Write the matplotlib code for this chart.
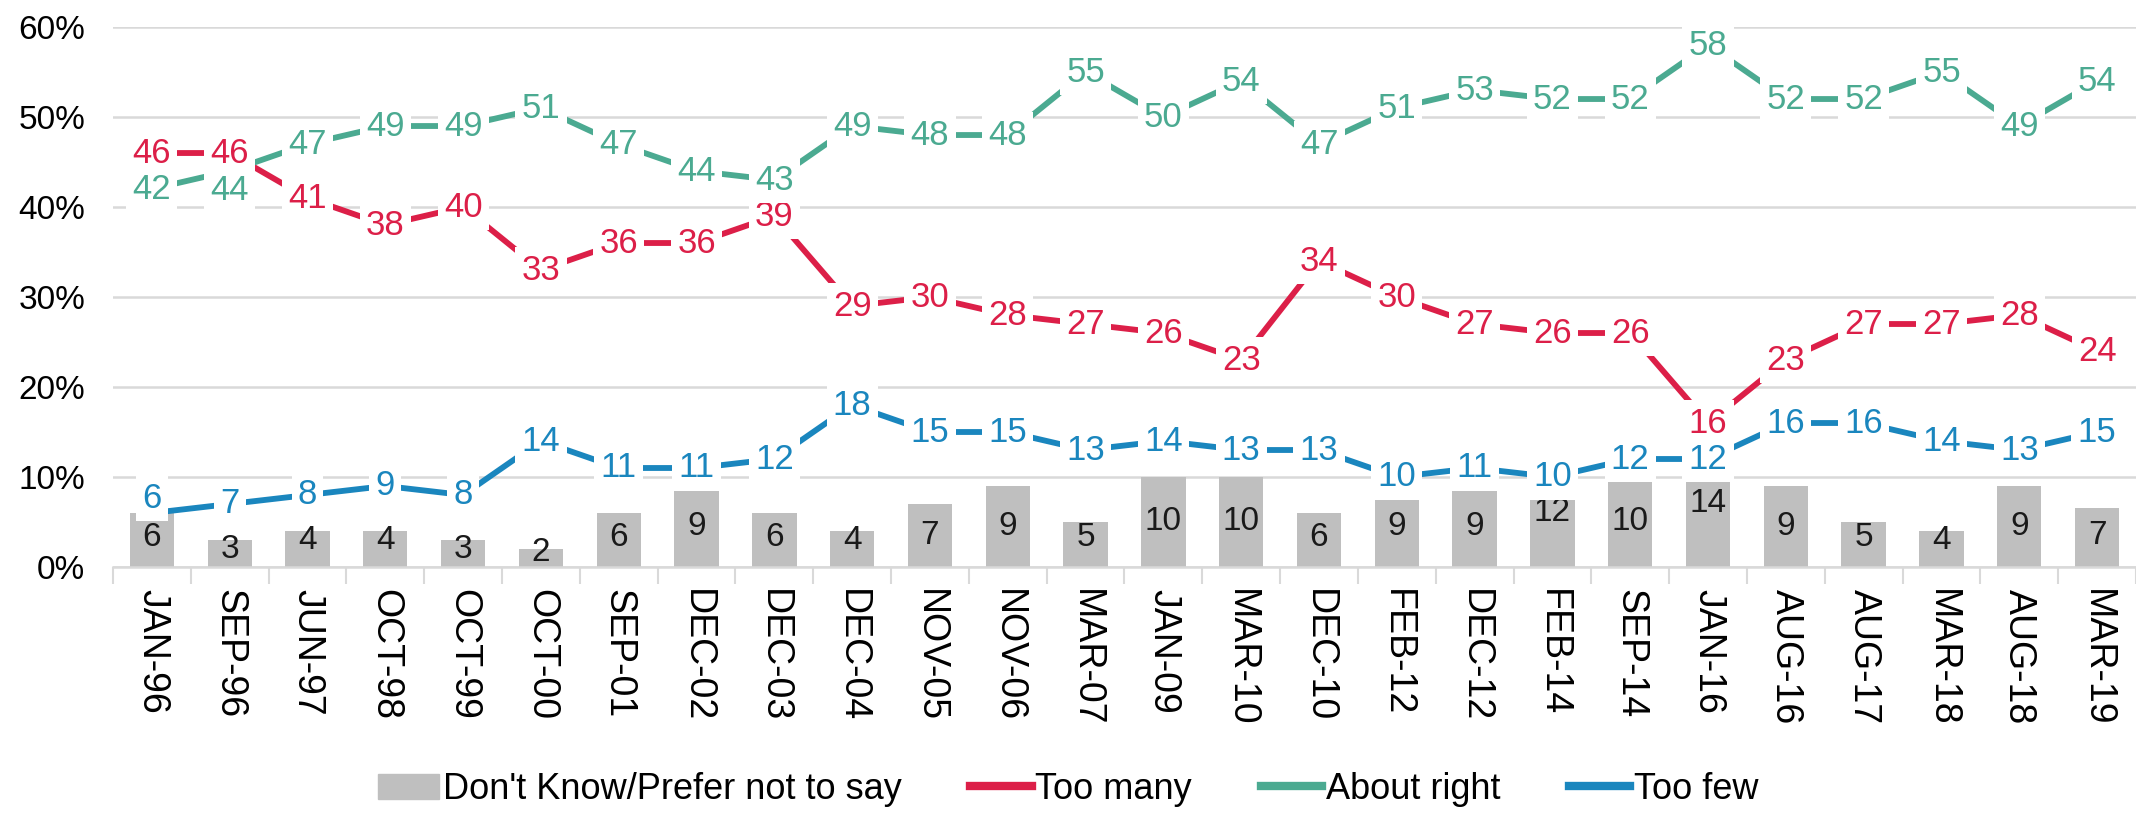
import numpy as np
import matplotlib
matplotlib.use("Agg")
import matplotlib.pyplot as plt
from matplotlib.patches import Patch
from matplotlib.lines import Line2D

plt.rcParams['font.family'] = ['Liberation Sans', 'DejaVu Sans']

# Data
dates = ['JAN-96', 'SEP-96', 'JUN-97', 'OCT-98', 'OCT-99', 'OCT-00', 'SEP-01',
         'DEC-02', 'DEC-03', 'DEC-04', 'NOV-05', 'NOV-06', 'MAR-07', 'JAN-09',
         'MAR-10', 'DEC-10', 'FEB-12', 'DEC-12', 'FEB-14', 'SEP-14', 'JAN-16',
         'AUG-16', 'AUG-17', 'MAR-18', 'AUG-18', 'MAR-19']
too_many = [46, 46, 41, 38, 40, 33, 36, 36, 39, 29, 30, 28, 27, 26, 23, 34, 30,
            27, 26, 26, 16, 23, 27, 27, 28, 24]
about_right = [42, 44, 47, 49, 49, 51, 47, 44, 43, 49, 48, 48, 55, 50, 54, 47,
               51, 53, 52, 52, 58, 52, 52, 55, 49, 54]
too_few = [6, 7, 8, 9, 8, 14, 11, 11, 12, 18, 15, 15, 13, 14, 13, 13, 10, 11,
           10, 12, 12, 16, 16, 14, 13, 15]
# bar heights as drawn in the picture, and the numbers printed on them
dont_know_bar = [6, 3, 4, 4, 3, 2, 6, 8.5, 6, 4, 7, 9, 5, 10, 10, 6, 7.5, 8.5,
                 7.5, 9.5, 9.5, 9, 5, 4, 9, 6.6]
dont_know_lbl = [6, 3, 4, 4, 3, 2, 6, 9, 6, 4, 7, 9, 5, 10, 10, 6, 9, 9, 12, 10,
                 14, 9, 5, 4, 9, 7]

RED = '#DC1F48'
TEAL = '#4BAA91'
BLUE = '#1A86BE'
GRAY = '#BFBFBF'

fig = plt.figure(figsize=(21.36, 8.19), dpi=100)
ax = fig.add_axes([0.0529, 0.3077, 0.9471, 0.6593])

x = np.arange(len(dates))

# bars
ax.bar(x, dont_know_bar, width=0.57, color=GRAY, zorder=2)
for xi, h, v in zip(x, dont_know_bar, dont_know_lbl):
    y = max(v / 2, min(3.3, h - 1.1), 1.6)
    ax.text(xi, y, str(v), ha='center', va='center', fontsize=24,
            color='#1a1a1a', zorder=3)

# label positions: on the point, pushed apart where they would collide
lab_many = list(map(float, too_many))
lab_right = list(map(float, about_right))
lab_few = list(map(float, too_few))
for i in range(len(dates)):
    if lab_many[i] - lab_right[i] < 3.5 and lab_many[i] >= lab_right[i]:
        lab_right[i] = lab_many[i] - 4.2
    if too_few[i] - dont_know_bar[i] < 1:
        lab_few[i] = too_few[i] + 1.6

for vals, labs, col in [(too_many, lab_many, RED), (about_right, lab_right, TEAL),
                        (too_few, lab_few, BLUE)]:
    ax.plot(x, vals, color=col, lw=4.2, solid_capstyle='butt', zorder=4)
    for xi, v, ly in zip(x, vals, labs):
        ax.text(xi, ly, str(v), ha='center', va='center', fontsize=25,
                color=col, zorder=6,
                bbox=dict(boxstyle='square,pad=0.18', fc='white', ec='none'))

ax.set_xlim(-0.5, len(dates) - 0.5)
ax.set_ylim(0, 60)
ax.set_yticks(np.arange(0, 61, 10))
ax.set_yticklabels([f'{t}%' for t in range(0, 61, 10)], fontsize=24)
ax.yaxis.grid(True, color='#D9D9D9', lw=1.8, zorder=0)
ax.set_axisbelow(True)

ax.set_xticks(x)
ax.set_xticklabels(dates, rotation=-90, fontsize=27, va='top', ha='center')
ax.set_xticks(np.arange(-0.5, len(dates), 1), minor=True)
ax.tick_params(axis='x', which='major', length=0, pad=16)
ax.tick_params(axis='x', which='minor', length=12, color='#D9D9D9', width=1.5)
ax.tick_params(axis='y', length=0, pad=20)

for s in ['top', 'right', 'left']:
    ax.spines[s].set_visible(False)
ax.spines['bottom'].set_color('#D9D9D9')
ax.spines['bottom'].set_linewidth(1.8)

handles = [Patch(color=GRAY),
           Line2D([], [], color=RED, lw=6),
           Line2D([], [], color=TEAL, lw=6),
           Line2D([], [], color=BLUE, lw=6)]
labels = ["Don't Know/Prefer not to say", 'Too many', 'About right', 'Too few']
fig.legend(handles, labels, loc='lower center', bbox_to_anchor=(0.5, -0.025),
           ncol=4, frameon=False, fontsize=26, handlelength=1.7,
           handletextpad=0.1, columnspacing=1.9)

fig.savefig('out.png', dpi=100)
